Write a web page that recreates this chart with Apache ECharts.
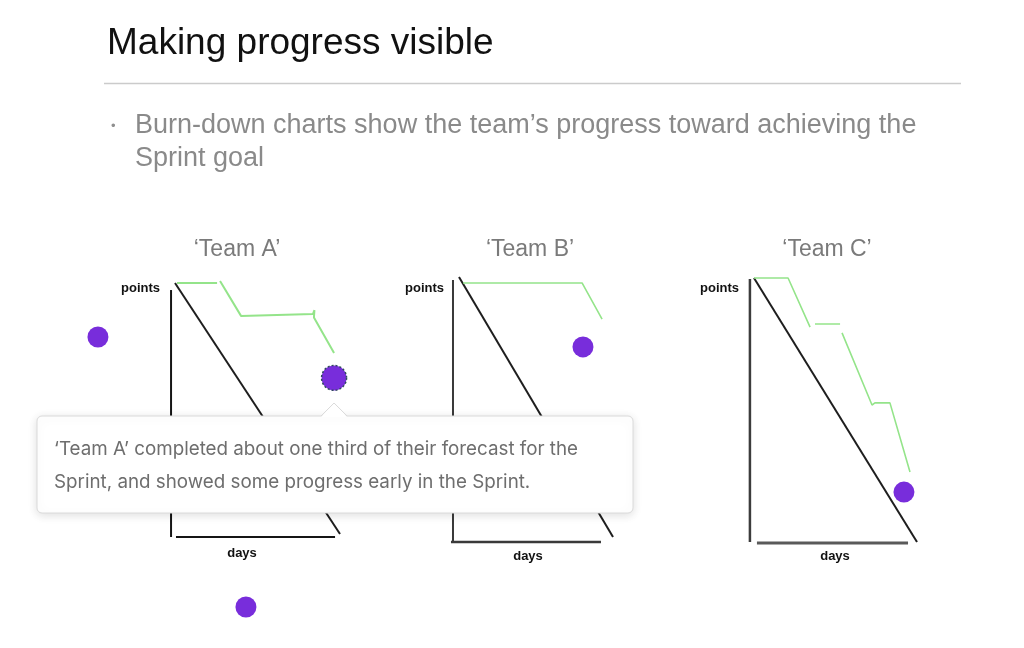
<!DOCTYPE html>
<html><head><meta charset="utf-8">
<script src="https://cdn.jsdelivr.net/npm/echarts@6/dist/echarts.min.js"></script>
<style>html,body{margin:0;padding:0;background:#fff}#c{width:1024px;height:648px}</style>
</head><body><div id="c"></div>
<script>
// ---- text ----
const slideTitle = 'Making progress visible';
const bulletLines = ['Burn-down charts show the team\u2019s progress toward achieving the', 'Sprint goal'];
const teamNames = ['\u2018Team A\u2019', '\u2018Team B\u2019', '\u2018Team C\u2019'];
const yName = 'points';
const xName = 'days';
const tipLines = ['\u2018Team A\u2019 completed about one third of their forecast for the',
                  'Sprint, and showed some progress early in the Sprint.'];

// ---- data (days 0..10, points 0..100; hand-drawn sketches) ----
const idealA = [[0, 100], [10, 0]];
const yAxisA = [[-0.24, 97.2], [-0.24, -1.2]];
const xAxisA = [[0.06, -1.2], [9.7, -1.2]];
const burnA = [
  [[0.12, 100], [2.55, 100]],
  [[2.73, 100.8], [4, 86.9], [4, 87.6], [8.36, 87.6], [8.45, 89.2], [8.42, 86.3], [9.64, 72.1]]
];
const hotspotA = [9.64, 62.2];
const slideHotspots = [[-4.67, 78.5], [4.3, -29.1]];

const idealB = [[0, 100], [10, 0]];
const yAxisB = [[-0.39, 98.8], [-0.39, -1.9]];
const xAxisB = [[-0.52, -1.9], [9.22, -1.9]];
const burnB = [
  [[0.26, 97.7], [7.99, 97.7], [9.29, 83.8]]
];
const hotspotB = [8.05, 73.1];

const idealC = [[0, 100], [10, 0]];
const yAxisC = [[-0.25, 99.6], [-0.25, 0]];
const xAxisC = [[0.18, -0.4], [9.45, -0.4]];
const burnC = [
  [[0, 100], [2.09, 100], [3.44, 81.4]],
  [[3.74, 82.6], [5.28, 82.6]],
  [[5.4, 79.2], [7.24, 51.9], [7.42, 52.7], [8.34, 52.7], [9.57, 26.5]]
];
const hotspotC = [9.2, 18.9];

// ---- chart ----
const PURPLE = '#782ddb';
const GREEN = '#94e48a';
const chart = echarts.init(document.getElementById('c'));

// x axis spans -1..10 days so the hand-drawn axes sit inside the plot area
const grids = [
  {left: 158.5, top: 283, width: 181.5, height: 251},
  {left: 443.6, top: 277, width: 169.4, height: 260},
  {left: 737.7, top: 278, width: 179.3, height: 264}
];
const teams = [
  {ideal: idealA, yAx: yAxisA, xAx: xAxisA, burn: burnA, axColor: ['#151515', '#151515'], axW: [2, 2], burnW: 2},
  {ideal: idealB, yAx: yAxisB, xAx: xAxisB, burn: burnB, axColor: ['#3a3a3a', '#3a3a3a'], axW: [2, 2.5], burnW: 1.6},
  {ideal: idealC, yAx: yAxisC, xAx: xAxisC, burn: burnC, axColor: ['#3c3c3c', '#5a5a5a'], axW: [2.5, 3], burnW: 1.6}
];

const series = [];
function lineSeries(i, data, color, width) {
  return {type: 'line', xAxisIndex: i, yAxisIndex: i, data: data, symbol: 'none',
          clip: false, silent: true, animation: false,
          lineStyle: {color: color, width: width, cap: 'butt'}};
}
teams.forEach(function (t, i) {
  series.push(lineSeries(i, t.yAx, t.axColor[0], t.axW[0]));
  series.push(lineSeries(i, t.xAx, t.axColor[1], t.axW[1]));
  series.push(lineSeries(i, t.ideal, '#1e1e1e', 2));
  t.burn.forEach(function (seg) { series.push(lineSeries(i, seg, GREEN, t.burnW)); });
});
function dots(i, data, size, extra) {
  return {type: 'scatter', xAxisIndex: i, yAxisIndex: i, data: data, symbolSize: size,
          clip: false, silent: true, animation: false, z: 5,
          itemStyle: Object.assign({color: PURPLE, opacity: 1}, extra || {})};
}
series.push(dots(0, slideHotspots, 21));
series.push(dots(0, [hotspotA], 25, {borderColor: '#2f4b5c', borderWidth: 1.5, borderType: [2, 2]}));
series.push(dots(1, [hotspotB], 21));
series.push(dots(2, [hotspotC], 21));

const FONT = '"Liberation Sans", Arial, sans-serif';
function txt(x, y, text, size, color, align, weight, family) {
  return {type: 'text', x: x, y: y, silent: true,
          style: {text: text, fontSize: size, fontFamily: family || FONT, fontWeight: weight || 'normal',
                  fill: color, align: align || 'left', verticalAlign: 'middle'}};
}

const graphics = [
  txt(107, 44, slideTitle, 37, '#111111'),
  {type: 'line', silent: true, shape: {x1: 104, y1: 83.5, x2: 961, y2: 83.5}, style: {stroke: '#cbcbcb', lineWidth: 1.5}},
  txt(111, 126, '\u2022', 13, '#8f8f8f'),
  txt(135, 126, bulletLines[0], 27, '#8a8a8a'),
  txt(135, 159, bulletLines[1], 27, '#8a8a8a'),
  txt(237, 250, teamNames[0], 23, '#7a7a7a', 'center'),
  txt(530, 250, teamNames[1], 23, '#7a7a7a', 'center'),
  txt(827, 250, teamNames[2], 23, '#7a7a7a', 'center'),
  txt(160, 288, yName, 13, '#111', 'right', 'bold'),
  txt(444, 288, yName, 13, '#111', 'right', 'bold'),
  txt(739, 288, yName, 13, '#111', 'right', 'bold'),
  txt(242, 553, xName, 13, '#111', 'center', 'bold'),
  txt(528, 556, xName, 13, '#111', 'center', 'bold'),
  txt(835, 556, xName, 13, '#111', 'center', 'bold')
];

const option = {
  backgroundColor: '#ffffff',
  animation: false,
  grid: grids.map(function (g) { return Object.assign({containLabel: false}, g); }),
  xAxis: grids.map(function (g, i) { return {type: 'value', gridIndex: i, min: -1, max: 10, show: false}; }),
  yAxis: grids.map(function (g, i) { return {type: 'value', gridIndex: i, min: 0, max: 100, show: false}; }),
  series: series,
  graphic: graphics
};
chart.setOption(option);

// tooltip box pointing at Team A hotspot
const p = chart.convertToPixel({gridIndex: 0}, hotspotA);
const bx = 37, by = 416, bw = 596, bh = 97;
const TIPFONT = 'Inter, "Open Sans", sans-serif';
const tip = {
  type: 'group', z: 100, silent: true,
  children: [
    {type: 'rect', z: 100, shape: {x: bx, y: by, width: bw, height: bh, r: 5},
     style: {fill: '#ffffff', stroke: '#dadada', lineWidth: 1, shadowBlur: 10, shadowOffsetY: 2, shadowColor: 'rgba(0,0,0,0.13)'}},
    {type: 'polygon', z: 101, shape: {points: [[p[0] - 13, by + 1], [p[0], by - 13], [p[0] + 13, by + 1]]},
     style: {fill: '#ffffff'}},
    {type: 'polyline', z: 102, shape: {points: [[p[0] - 13, by], [p[0], by - 13], [p[0] + 13, by]]},
     style: {stroke: '#dadada', lineWidth: 1, fill: null}},
    Object.assign(txt(54, 449, tipLines[0], 18.8, '#6e6e6e', 'left', 'normal', TIPFONT), {z: 103}),
    Object.assign(txt(54, 482, tipLines[1], 18.8, '#6e6e6e', 'left', 'normal', TIPFONT), {z: 103})
  ]
};
chart.setOption({graphic: graphics.concat([tip])});
</script>
</body></html>
